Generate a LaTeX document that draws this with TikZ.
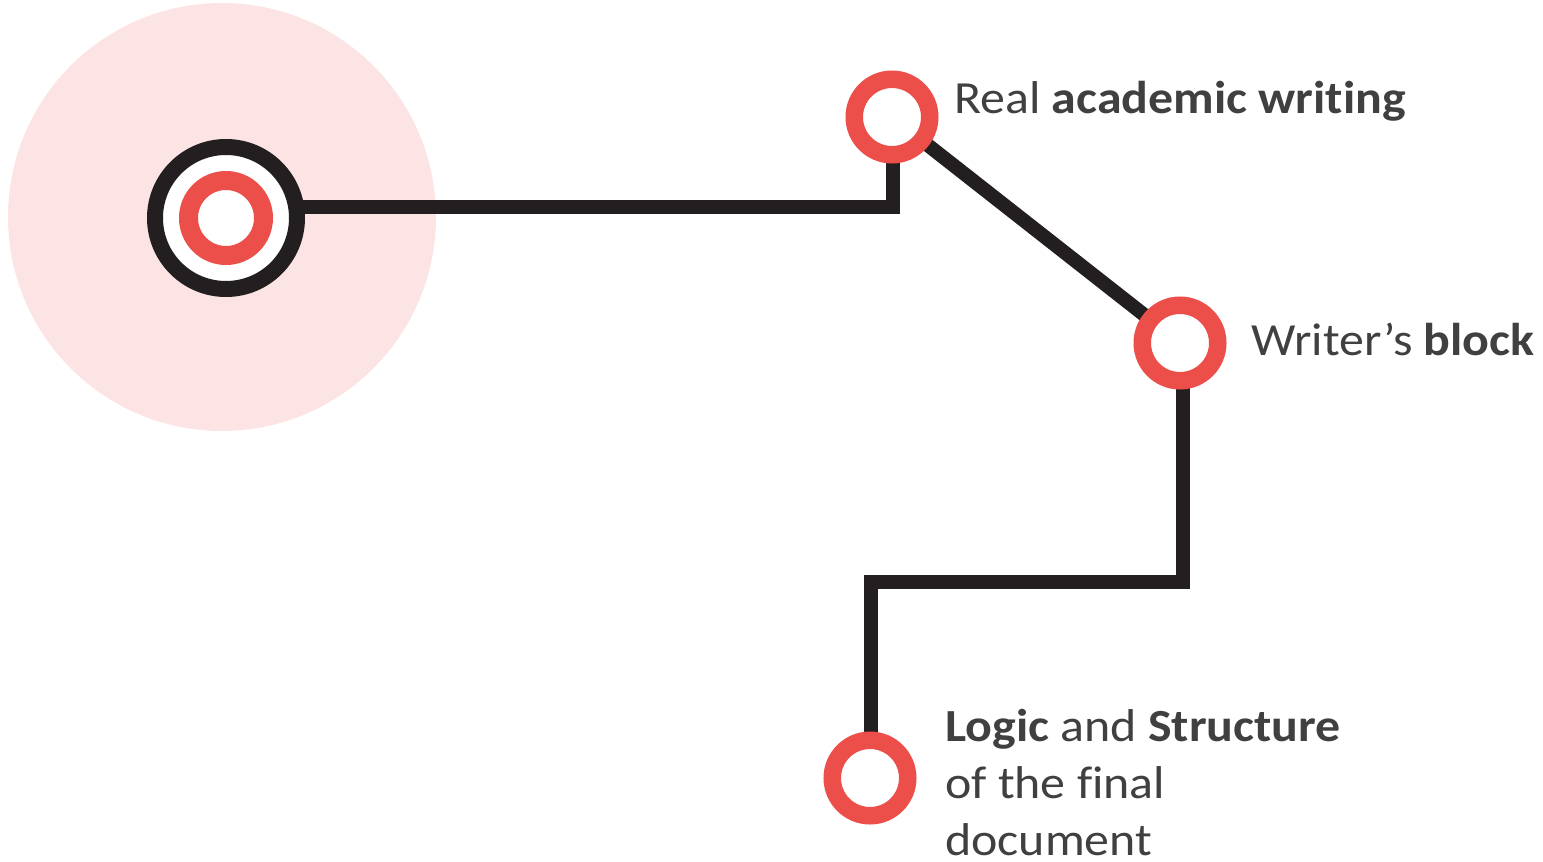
\documentclass[tikz,border=0pt]{standalone}
\usepackage{fontspec}
\setmainfont{Carlito}[FakeStretch=1.085, Ligatures=NoCommon]
\usetikzlibrary{backgrounds}
\definecolor{ringred}{HTML}{EC4E4A}
\definecolor{linkblack}{HTML}{231F20}
\definecolor{halo}{HTML}{FCE4E4}
\definecolor{txt}{HTML}{404040}
\tikzset{
  stop/.style={circle, draw=ringred, fill=white, line width=17.5pt, minimum size=75.5pt, inner sep=0pt, outer sep=0pt},
  link/.style={draw=linkblack, line width=14pt},
  label/.style={anchor=base west, inner sep=0pt, text=txt, font=\fontsize{46}{56.7}\selectfont, align=left}
}
\begin{document}
\begin{tikzpicture}[x=1pt,y=-1pt]
\useasboundingbox (0,0) rectangle (1543,862);
% start node
\node[circle, draw=linkblack, fill=white, line width=16pt, minimum size=142pt, inner sep=0pt] (start) at (226,218) {};
\node[circle, draw=ringred, fill=white, line width=19pt, minimum size=75pt, inner sep=0pt] (core) at (226,218) {};
% stops
\node[stop] (n1) at (892,117) {};
\node[stop] (n2) at (1180,343) {};
\node[stop] (n3) at (870,778) {};
% connectors
\coordinate (c1) at (893,207);
\coordinate (c2a) at (1183,343);
\coordinate (c2b) at (1183,582);
\coordinate (c3a) at (871,582);
\coordinate (c3b) at (871,778);
\begin{pgfonlayer}{background}
\fill[halo] (222,217) circle[radius=214];
\draw[link] (start.center |- c1) -- (c1) -- (c1 |- n1.center);
\draw[link] (n1.center) -- (n2.center);
\draw[link] (c2a) -- (c2b) -- (c3a) -- (c3b);
\end{pgfonlayer}
% labels
\node[label] (t1) at (954,113) {Real \textbf{academic writing}};
\node[label] (t2) at (1251,355) {Writer’s \textbf{block}};
\node[label] (t3) at (945,855) {\textbf{Logic} and \textbf{Structure}\\of the final\\document};
\end{tikzpicture}
\end{document}
